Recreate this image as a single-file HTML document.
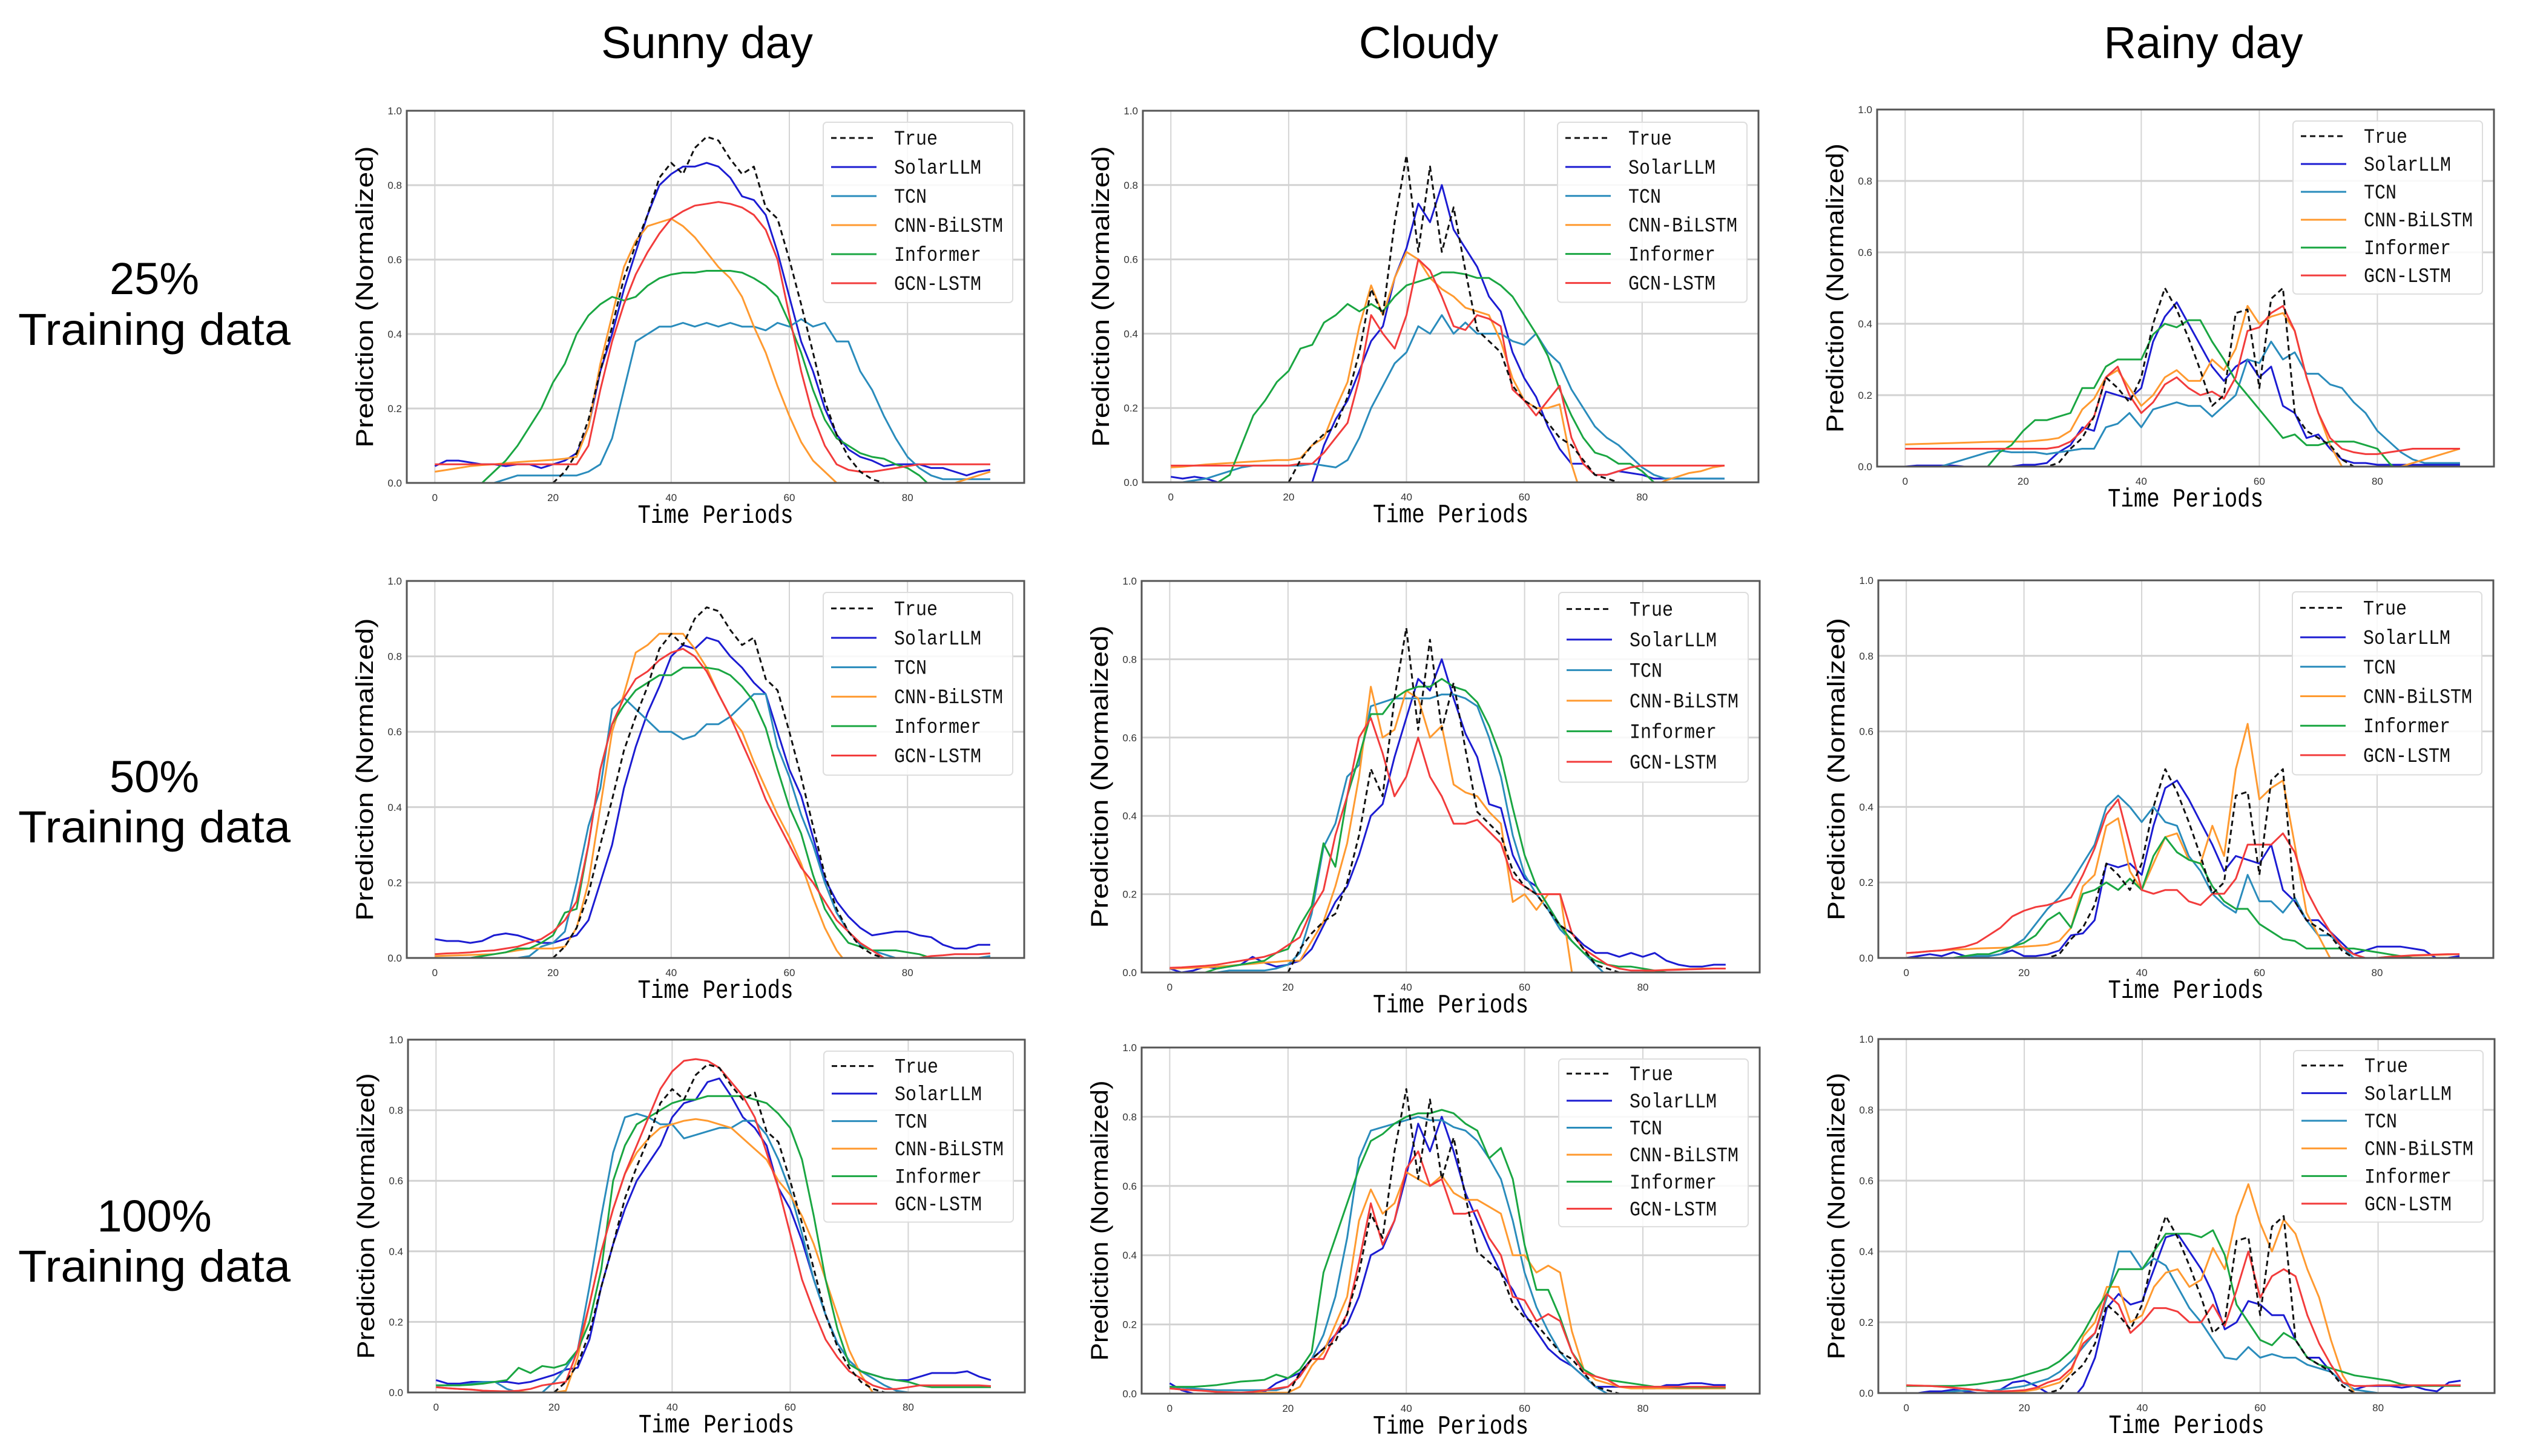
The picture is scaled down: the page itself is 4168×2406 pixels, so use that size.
<!DOCTYPE html>
<html><head><meta charset="utf-8">
<style>
html,body{margin:0;padding:0;background:#fff;}
svg{display:block;}
</style></head>
<body>
<svg id="fig" xmlns="http://www.w3.org/2000/svg" width="4168" height="2406" viewBox="0 0 4168 2406">
<rect width="4168" height="2406" fill="#fff"/>
<g font-family="Liberation Sans, sans-serif" font-size="74" fill="#000" text-anchor="middle">
<text x="1168" y="96">Sunny day</text>
<text x="2360" y="96">Cloudy</text>
<text x="3640" y="96">Rainy day</text>
<text x="255" y="486">25%</text>
<text x="255" y="570" textLength="450" lengthAdjust="spacingAndGlyphs">Training data</text>
<text x="255" y="1309">50%</text>
<text x="255" y="1392" textLength="450" lengthAdjust="spacingAndGlyphs">Training data</text>
<text x="255" y="2035">100%</text>
<text x="255" y="2118" textLength="450" lengthAdjust="spacingAndGlyphs">Training data</text>
</g>
<g id="plots"></g>
</svg>
<script>
// time axis (every 2 periods)
const xs = [0,2,4,6,8,10,12,14,16,18,20,22,24,26,28,30,32,34,36,38,40,42,44,46,48,50,52,54,56,58,60,62,64,66,68,70,72,74,76,78,80,82,84,86,88,90,92,94];
const xTicks = [0,20,40,60,80];
const yTicks = [0,0.2,0.4,0.6,0.8,1.0];
const yTickLabels = ["0.0","0.2","0.4","0.6","0.8","1.0"];
const seriesNames = ["True","SolarLLM","TCN","CNN-BiLSTM","Informer","GCN-LSTM"];

const trueSunny = [0,0,0,0,0,0,0,0, 0,0,0,.03,.08,.17,.3,.42, .55,.64,.72,.82,.86,.83,.9,.93, .92,.87,.83,.85,.74,.71,.6,.48, .35,.22,.13,.07,.03,.01,0,0, 0,0,0,0,0,0,0,0];
const trueCloudy = [0,0,0,0,0,0,0,0, 0,0,0,.06,.1,.13,.15,.23, .35,.52,.45,.7,.88,.62,.85,.62, .74,.57,.41,.38,.35,.26,.22,.2, .16,.12,.1,.06,.02,.01,0,0, 0,0,0,0,0,0,0,0];
const trueRainy = [0,0,0,0,0,0,0,0, 0,0,0,0,0,.01,.05,.08, .14,.25,.22,.18,.25,.4,.5,.44, .36,.27,.17,.2,.43,.44,.22,.47, .5,.15,.1,.08,.06,.02,0,0, 0,0,0,0,0,0,0,0];

// 25% sunny
const s25Solar = [.045,.06,.06,.055,.05,.05,.045,.05, .05,.04,.05,.06,.08,.15,.3,.4, .52,.62,.72,.8,.83,.85,.85,.86, .85,.82,.77,.76,.72,.62,.5,.38, .3,.2,.13,.09,.07,.06,.045,.05, .05,.05,.04,.04,.03,.02,.03,.035];
const s25Tcn = [0,0,0,0,0,0,.01,.02, .02,.02,.02,.02,.02,.03,.05,.12, .25,.38,.4,.42,.42,.43,.42,.43, .42,.43,.42,.42,.41,.43,.42,.44, .42,.43,.38,.38,.3,.25,.18,.12, .07,.04,.02,.01,.01,.01,.01,.01];
const s25Cnn = [.03,.035,.04,.045,.048,.05,.053,.056, .058,.06,.062,.065,.07,.15,.32,.45, .58,.65,.69,.7,.71,.69,.66,.62, .58,.55,.5,.42,.35,.26,.18,.11, .06,.03,0,-.05,-.05,-.05,-.05,-.05, -.05,-.05,-.05,-.02,0,.01,.02,.03];
const s25Inf = [-.05,-.04,-.03,-.01,0,.03,.06,.1, .15,.2,.27,.32,.4,.45,.48,.5, .49,.5,.53,.55,.56,.565,.565,.57, .57,.57,.565,.55,.53,.5,.43,.35, .25,.17,.12,.1,.08,.07,.065,.05, .04,.02,-.01,-.03,-.03,-.03,-.03,-.03];
const s25Gcn = [.05,.05,.05,.05,.05,.05,.05,.05, .05,.05,.05,.05,.05,.1,.25,.38, .48,.56,.62,.67,.71,.73,.745,.75, .755,.75,.74,.72,.68,.6,.45,.3, .18,.1,.05,.035,.03,.03,.035,.04, .045,.05,.05,.05,.05,.05,.05,.05];
// 25% cloudy
const c25Solar = [.015,.01,.015,.01,0,-.01,-.01,-.01, -.01,-.01,-.01,-.01,0,.1,.17,.22, .3,.38,.42,.55,.63,.75,.7,.8, .68,.63,.58,.5,.46,.35,.28,.23, .15,.09,.05,.05,.02,.02,.03,.025, .02,.01,.01,.01,.01,.01,.01,.01];
const c25Tcn = [0,0,.005,.01,.02,.03,.04,.045, .045,.045,.045,.045,.05,.045,.04,.06, .12,.2,.26,.32,.35,.42,.4,.45, .4,.43,.4,.4,.4,.38,.37,.4, .35,.32,.25,.2,.15,.12,.1,.07, .04,.02,.01,.01,.01,.01,.01,.01];
const c25Cnn = [.04,.042,.045,.048,.05,.052,.054,.056, .058,.06,.06,.065,.1,.12,.2,.27, .42,.53,.45,.55,.62,.6,.55,.52, .5,.47,.46,.45,.38,.28,.22,.2, .2,.21,.05,-.05,-.05,-.05,-.05,-.05, -.05,-.01,.005,.015,.025,.03,.04,.045];
const c25Inf = [-.03,-.03,-.02,-.01,0,.02,.1,.18, .22,.27,.3,.36,.37,.43,.45,.48, .46,.48,.46,.5,.53,.54,.55,.565, .565,.56,.55,.55,.53,.5,.45,.4, .34,.25,.18,.12,.08,.07,.05,.05, .03,0,-.03,-.03,-.03,-.03,-.03,-.03];
const c25Gcn = [.045,.045,.045,.045,.045,.045,.045,.045, .045,.045,.045,.05,.05,.08,.12,.16, .28,.45,.4,.36,.45,.6,.57,.5, .42,.41,.45,.44,.42,.25,.22,.18, .22,.26,.12,.05,.02,.02,.03,.04, .045,.045,.045,.045,.045,.045,.045,.045];
// 25% rainy
const r25Solar = [0,.003,.003,.003,.003,0,0,0, 0,0,.005,.005,.01,.04,.06,.11, .1,.21,.2,.19,.22,.35,.42,.46, .4,.34,.28,.24,.28,.3,.25,.28, .17,.15,.08,.09,.05,.02,.01,.01, .005,.005,.005,.005,.005,.005,.005,.005];
const r25Tcn = [0,0,0,0,.01,.02,.03,.04, .045,.04,.04,.04,.035,.04,.045,.05, .05,.11,.12,.15,.11,.16,.17,.18, .17,.17,.14,.17,.2,.3,.29,.35, .3,.32,.26,.26,.23,.22,.18,.15, .1,.07,.04,.02,.01,.01,.01,.01];
const r25Cnn = [.062,.063,.064,.065,.066,.067,.068,.069, .07,.07,.07,.072,.075,.08,.1,.16, .19,.25,.27,.22,.17,.2,.25,.27, .24,.24,.3,.27,.33,.45,.4,.42, .43,.38,.25,.15,.06,0,-.04,-.04, -.03,-.02,0,.01,.02,.03,.04,.05];
const r25Inf = [-.05,-.05,-.05,-.05,-.05,-.04,-.02,0, .04,.06,.1,.13,.13,.14,.15,.22, .22,.28,.3,.3,.3,.37,.4,.39, .41,.41,.35,.3,.24,.2,.16,.12, .08,.09,.06,.06,.07,.07,.07,.06, .05,.01,-.02,-.03,-.03,-.03,-.03,-.03];
const r25Gcn = [.05,.05,.05,.05,.05,.05,.05,.05, .05,.05,.05,.05,.05,.055,.07,.1, .14,.25,.28,.2,.15,.18,.23,.25, .22,.2,.21,.19,.25,.38,.39,.43, .45,.38,.25,.15,.08,.05,.04,.035, .035,.04,.045,.05,.05,.05,.05,.05];
// 50% sunny
const s50Solar = [.05,.045,.045,.04,.045,.06,.065,.06, .05,.04,.04,.05,.06,.1,.2,.3, .45,.56,.65,.72,.8,.83,.82,.85, .84,.8,.77,.73,.7,.6,.5,.43, .32,.21,.15,.11,.08,.06,.065,.07, .07,.06,.055,.035,.025,.025,.035,.035];
const s50Tcn = [0,0,0,0,0,0,0,0, .005,.03,.04,.07,.2,.35,.45,.66, .69,.66,.63,.6,.6,.58,.59,.62, .62,.64,.67,.7,.7,.56,.48,.38, .3,.2,.12,.07,.035,.02,.01,0, 0,0,0,0,0,0,0,.005];
const s50Cnn = [.005,.006,.007,.008,.009,.01,.015,.02, .025,.025,.025,.03,.08,.2,.4,.6, .7,.81,.83,.86,.86,.86,.82,.77, .7,.64,.6,.52,.45,.38,.32,.25, .16,.08,.02,-.02,-.03,-.03,-.03,-.03, -.03,-.03,-.03,-.03,-.03,-.03,-.03,-.03];
const s50Inf = [0,0,0,0,.005,.01,.015,.025, .025,.04,.06,.12,.13,.3,.5,.62, .67,.71,.73,.75,.75,.77,.77,.77, .765,.75,.72,.68,.61,.5,.4,.33, .22,.13,.08,.04,.03,.02,.02,.02, .015,.01,0,0,0,0,0,0];
const s50Gcn = [.01,.012,.013,.015,.018,.02,.025,.03, .04,.05,.07,.1,.15,.3,.5,.62, .69,.74,.76,.79,.81,.82,.8,.76, .7,.64,.57,.5,.42,.36,.3,.24, .2,.15,.1,.07,.04,.02,0,0, 0,0,.005,.007,.01,.01,.01,.012];
// 50% cloudy
const c50Solar = [.01,0,.005,.015,.01,.015,.02,.04, .025,.015,.02,.03,.06,.12,.18,.22, .3,.4,.43,.55,.65,.75,.72,.8, .7,.61,.55,.43,.42,.3,.24,.22, .17,.12,.1,.07,.05,.05,.04,.05, .04,.05,.03,.02,.015,.015,.02,.02];
const c50Tcn = [0,0,0,0,0,.005,.005,.005, .005,.01,.02,.05,.15,.32,.38,.5, .53,.68,.69,.7,.7,.7,.7,.71, .71,.7,.68,.6,.5,.35,.25,.2, .16,.11,.08,.05,.02,-.01,-.02,-.02, -.02,-.02,-.02,-.02,-.02,-.02,-.02,-.02];
const c50Cnn = [.01,.011,.012,.013,.015,.017,.02,.022, .025,.027,.03,.03,.08,.13,.22,.33, .5,.73,.6,.62,.72,.7,.6,.63, .48,.46,.45,.41,.38,.18,.2,.16, .2,.2,0,-.04,-.04,-.04,-.04,-.04, 0,.005,.007,.008,.009,.01,.01,.01];
const c50Inf = [0,0,0,0,.01,.015,.02,.025, .03,.05,.06,.12,.17,.33,.27,.45, .55,.66,.66,.7,.72,.73,.73,.75, .73,.72,.69,.63,.55,.42,.3,.22, .17,.12,.08,.05,.03,.02,.015,.015, .01,.005,0,0,0,0,0,0];
const c50Gcn = [.012,.013,.015,.017,.02,.025,.03,.035, .04,.05,.07,.09,.16,.21,.35,.45, .6,.65,.56,.45,.5,.6,.5,.45, .38,.38,.39,.36,.33,.24,.22,.2, .2,.2,.1,.06,.04,.02,.01,.005, .005,.005,.006,.007,.008,.009,.01,.01];
// 50% rainy
const r50Solar = [0,.005,.01,.005,.015,.005,.005,.005, .01,.02,.005,.005,.01,.02,.06,.065, .1,.25,.24,.25,.22,.35,.45,.47, .42,.36,.3,.23,.27,.26,.25,.3, .18,.15,.1,.1,.07,.04,.01,.02, .03,.03,.03,.025,.02,0,0,.005];
const r50Tcn = [0,0,0,0,0,.005,.005,.005, .01,.03,.05,.09,.13,.16,.2,.25, .3,.4,.43,.4,.36,.4,.36,.35, .27,.23,.17,.14,.12,.22,.15,.15, .12,.16,.1,.06,.06,.03,0,-.02, -.02,-.02,-.02,-.02,-.02,-.02,-.02,-.02];
const r50Cnn = [.013,.015,.018,.02,.022,.023,.025,.026, .027,.028,.03,.032,.035,.045,.08,.19, .22,.35,.37,.23,.18,.25,.32,.33, .26,.25,.35,.27,.5,.62,.42,.45, .47,.3,.12,.06,0,-.04,-.04,-.04, 0,.003,.005,.006,.007,.008,.009,.01];
const r50Inf = [0,0,0,0,0,.005,.01,.01, .02,.03,.04,.06,.1,.12,.08,.17, .18,.2,.18,.21,.18,.27,.32,.28, .26,.25,.19,.15,.13,.13,.09,.07, .05,.045,.025,.025,.025,.025,.025,.02, .015,.01,.005,0,0,0,0,0];
const r50Gcn = [.013,.015,.018,.02,.025,.03,.04,.06, .08,.11,.125,.135,.14,.15,.16,.22, .29,.38,.42,.3,.18,.17,.18,.18, .15,.14,.17,.17,.21,.3,.3,.3, .33,.28,.18,.12,.07,.03,.01,0, 0,.003,.005,.007,.008,.009,.01,.01];
// 100% sunny
const s100Solar = [.035,.025,.025,.03,.03,.03,.03,.025, .03,.04,.05,.065,.07,.15,.3,.42, .52,.6,.65,.7,.78,.82,.83,.88, .89,.84,.78,.75,.7,.58,.52,.43, .32,.22,.14,.09,.06,.05,.04,.035, .035,.045,.055,.055,.055,.06,.045,.035];
const s100Tcn = [.02,.02,.02,.025,.03,.03,.01,0, -.01,0,.03,.07,.12,.3,.5,.68, .78,.79,.78,.76,.76,.72,.73,.74, .75,.75,.77,.77,.73,.66,.57,.45, .32,.22,.14,.09,.06,.04,.02,.005, 0,-.01,-.01,-.01,-.01,-.01,-.01,-.01];
const s100Cnn = [.015,.012,.01,.008,.005,.004,.003,.002, 0,0,0,.005,.1,.25,.4,.52, .62,.68,.72,.75,.76,.77,.775,.77, .76,.75,.72,.69,.66,.6,.56,.5, .42,.32,.22,.12,.05,0,-.03,-.03, -.03,-.03,-.03,-.03,-.03,-.03,-.03,-.03];
const s100Inf = [.02,.02,.02,.022,.025,.03,.035,.07, .055,.075,.07,.08,.12,.2,.35,.6, .7,.76,.78,.8,.82,.83,.83,.84, .84,.84,.84,.83,.82,.79,.75,.66, .5,.32,.18,.08,.06,.05,.04,.035, .03,.02,.015,.015,.015,.015,.015,.015];
const s100Gcn = [.015,.012,.01,.008,.005,.004,.003,.005, .01,.02,.025,.03,.12,.25,.4,.52, .62,.7,.78,.86,.91,.94,.945,.94, .92,.88,.84,.78,.68,.58,.45,.32, .23,.15,.1,.06,.04,.02,.01,.01, .015,.02,.02,.02,.02,.02,.02,.018];
// 100% cloudy
const c100Solar = [.03,.01,0,0,0,0,0,0, .005,.03,.045,.06,.1,.13,.17,.2, .28,.4,.42,.5,.63,.78,.7,.8, .7,.58,.5,.42,.35,.3,.23,.18, .13,.1,.08,.05,.02,.02,.02,.02, .015,.015,.025,.025,.03,.03,.025,.025];
const c100Tcn = [.02,.018,.015,.012,.01,.01,.01,.01, .01,.01,.02,.05,.1,.17,.28,.45, .68,.76,.77,.78,.79,.8,.79,.79, .77,.76,.73,.68,.62,.5,.35,.25, .18,.12,.08,.05,.02,0,-.01,-.01, -.01,-.01,-.01,-.01,-.01,-.01,-.01,-.01];
const c100Cnn = [.015,.012,.01,.008,.005,.004,.003,.003, .003,.003,.003,.02,.08,.12,.2,.28, .5,.59,.52,.55,.64,.62,.6,.63, .58,.56,.56,.54,.52,.4,.4,.35, .37,.35,.18,.07,.04,.03,.02,.015, .015,.015,.015,.015,.015,.015,.015,.015];
const c100Inf = [.02,.02,.02,.022,.025,.03,.035,.037, .04,.055,.045,.07,.12,.35,.45,.55, .65,.73,.75,.78,.8,.81,.81,.82, .81,.78,.76,.68,.71,.62,.43,.3, .3,.22,.12,.07,.05,.04,.035,.03, .025,.02,.02,.018,.018,.018,.018,.018];
const c100Gcn = [.015,.012,.01,.008,.005,.004,.003,.005, .01,.015,.02,.05,.1,.1,.17,.23, .38,.55,.43,.5,.65,.7,.6,.62, .52,.52,.53,.45,.4,.28,.27,.21, .23,.21,.12,.06,.05,.04,.02,.02, .02,.02,.02,.02,.02,.02,.02,.02];
// 100% rainy
const r100Solar = [0,0,.005,.005,.01,.005,0,0, .01,.03,.035,.02,0,-.02,-.02,.02, .1,.24,.28,.25,.26,.35,.44,.45, .4,.35,.28,.18,.2,.26,.25,.22, .22,.15,.1,.1,.06,.03,.01,.02, .02,.02,.015,.02,.01,.005,.03,.035];
const r100Tcn = [0,0,0,0,.005,.007,.01,.005, .01,.015,.02,.03,.04,.06,.09,.13, .17,.27,.4,.4,.35,.38,.36,.3, .24,.2,.15,.1,.095,.13,.1,.11, .1,.1,.08,.07,.06,.03,.01,.005, 0,0,0,0,0,0,0,0];
const r100Cnn = [.022,.021,.02,.018,.015,.012,.008,.006, .005,.005,.005,.01,.02,.03,.06,.16, .2,.3,.3,.2,.22,.3,.34,.35, .3,.32,.41,.35,.5,.59,.48,.4, .49,.45,.35,.27,.15,.05,0,-.02, -.02,-.02,-.02,-.02,-.02,-.02,-.02,-.02];
const r100Inf = [.02,.02,.02,.02,.02,.022,.025,.03, .035,.04,.05,.06,.07,.09,.12,.17, .23,.28,.35,.35,.35,.4,.45,.45, .45,.44,.46,.39,.25,.2,.15,.135, .17,.15,.1,.08,.07,.06,.05,.045, .04,.035,.025,.02,.02,.02,.02,.02];
const r100Gcn = [.022,.021,.02,.018,.015,.012,.008,.006, .005,.006,.008,.015,.03,.04,.07,.14, .17,.28,.25,.17,.2,.24,.24,.23, .2,.2,.25,.19,.29,.4,.27,.33, .35,.33,.22,.14,.08,.03,.02,.02, .022,.022,.022,.022,.022,.022,.022,.022];

const colors = ["#111111","#1c1cd2","#2a8cbc","#ff9a30","#1aa642","#f23c3c"];
const SVGNS = "http://www.w3.org/2000/svg";
function mk(tag, attrs, parent){const e=document.createElementNS(SVGNS,tag);for(const k in attrs)e.setAttribute(k,attrs[k]);if(parent)parent.appendChild(e);return e;}

const panels = [
 {id:"sunny-25", box:[672,183,1692,798], data:[trueSunny,s25Solar,s25Tcn,s25Cnn,s25Inf,s25Gcn]},
 {id:"cloudy-25", box:[1888,183,2905,797], data:[trueCloudy,c25Solar,c25Tcn,c25Cnn,c25Inf,c25Gcn]},
 {id:"rainy-25", box:[3101,181,4120,771], data:[trueRainy,r25Solar,r25Tcn,r25Cnn,r25Inf,r25Gcn]},
 {id:"sunny-50", box:[672,960,1692,1583], data:[trueSunny,s50Solar,s50Tcn,s50Cnn,s50Inf,s50Gcn]},
 {id:"cloudy-50", box:[1886,960,2907,1607], data:[trueCloudy,c50Solar,c50Tcn,c50Cnn,c50Inf,c50Gcn]},
 {id:"rainy-50", box:[3103,959,4119,1583], data:[trueRainy,r50Solar,r50Tcn,r50Cnn,r50Inf,r50Gcn]},
 {id:"sunny-100", box:[674,1718,1693,2301], data:[trueSunny,s100Solar,s100Tcn,s100Cnn,s100Inf,s100Gcn]},
 {id:"cloudy-100", box:[1886,1731,2907,2303], data:[trueCloudy,c100Solar,c100Tcn,c100Cnn,c100Inf,c100Gcn]},
 {id:"rainy-100", box:[3103,1717,4121,2302], data:[trueRainy,r100Solar,r100Tcn,r100Cnn,r100Inf,r100Gcn]}
];

const root = document.getElementById("plots");
panels.forEach(function(p){
  const [L,T,R,B]=p.box, W=R-L, H=B-T;
  const xmin=-4.75, xmax=99.75;
  const sx = v => L + (v-xmin)/(xmax-xmin)*W;
  const sy = v => B - v*H;
  const g = mk("g",{},root);
  
  
  const cp = mk("clipPath",{id:"clip-"+p.id},g);
  mk("rect",{x:L,y:T,width:W,height:H},cp);
  // grid
  xTicks.forEach(function(t){
    const ln = mk("line",{x1:sx(t),x2:sx(t),y1:T,y2:B,stroke:"#d4d4d4","stroke-width":2},g);
    
    
    const tx = mk("text",{x:sx(t),y:B+30,"font-family":"Liberation Sans, sans-serif","font-size":17,fill:"#333","text-anchor":"middle"},g);
    tx.textContent = String(t);
    
    
  });
  yTicks.forEach(function(t,i){
    if(t>0 && t<1){
      const ln = mk("line",{x1:L,x2:R,y1:sy(t),y2:sy(t),stroke:"#d2d2d2","stroke-width":3},g);
      
      
    }
    const tx = mk("text",{x:L-8,y:sy(t)+6,"font-family":"Liberation Sans, sans-serif","font-size":17,fill:"#333","text-anchor":"end"},g);
    tx.textContent = yTickLabels[i];
    
    
  });
  // series
  const lg = mk("g",{"clip-path":"url(#clip-"+p.id+")"},g);
  const order=[1,2,3,4,5,0];
  order.forEach(function(si){
    const vals=p.data[si];
    let d="";
    vals.forEach(function(v,i){ d += (i?"L":"M")+sx(xs[i]).toFixed(1)+","+sy(v).toFixed(1); });
    const path = mk("path",{d:d,fill:"none",stroke:colors[si],"stroke-width":3,"stroke-linejoin":"round"},lg);
    if(si===0) path.setAttribute("stroke-dasharray","9,6");
    
    
  });
  // frame
  const fr = mk("rect",{x:L,y:T,width:W,height:H,fill:"none",stroke:"#555","stroke-width":3},g);
  
  
  // axis labels
  const xl = mk("text",{x:(L+R)/2,y:B+66,"font-family":"Liberation Mono, monospace","font-size":44,fill:"#000","text-anchor":"middle",textLength:257,lengthAdjust:"spacingAndGlyphs"},g);
  xl.textContent="Time Periods";
  
  
  const cy=(T+B)/2, cx=L-56;
  const yl = mk("text",{x:cx,y:cy,transform:"rotate(-90 "+cx+" "+cy+")","font-family":"Liberation Sans, sans-serif","font-size":40,fill:"#000","text-anchor":"middle",textLength:Math.min(500,H*0.81),lengthAdjust:"spacingAndGlyphs"},g);
  yl.textContent="Prediction (Normalized)";
  
  
  // legend
  const sc = H/615;
  const lx=R-332, ly=T+19, lh=298*sc, step=48*sc;
  const leg = mk("g",{},g);
  
  
  mk("rect",{x:lx,y:ly,width:313,height:lh,rx:6,fill:"#fff","fill-opacity":0.85,stroke:"#dddddd","stroke-width":2},leg);
  seriesNames.forEach(function(n,i){
    const yy = ly + 26*sc + i*step;
    const sl = mk("line",{x1:lx+13,x2:lx+88,y1:yy,y2:yy,stroke:colors[i],"stroke-width":3},leg);
    if(i===0) sl.setAttribute("stroke-dasharray","9,6");
    
    
    const t = mk("text",{x:lx+117,y:yy+11,"font-family":"Liberation Mono, monospace","font-size":34,fill:"#111",textLength:n.length*18,lengthAdjust:"spacingAndGlyphs"},leg);
    t.textContent=n;
    
    
  });
});
</script>
</body></html>
